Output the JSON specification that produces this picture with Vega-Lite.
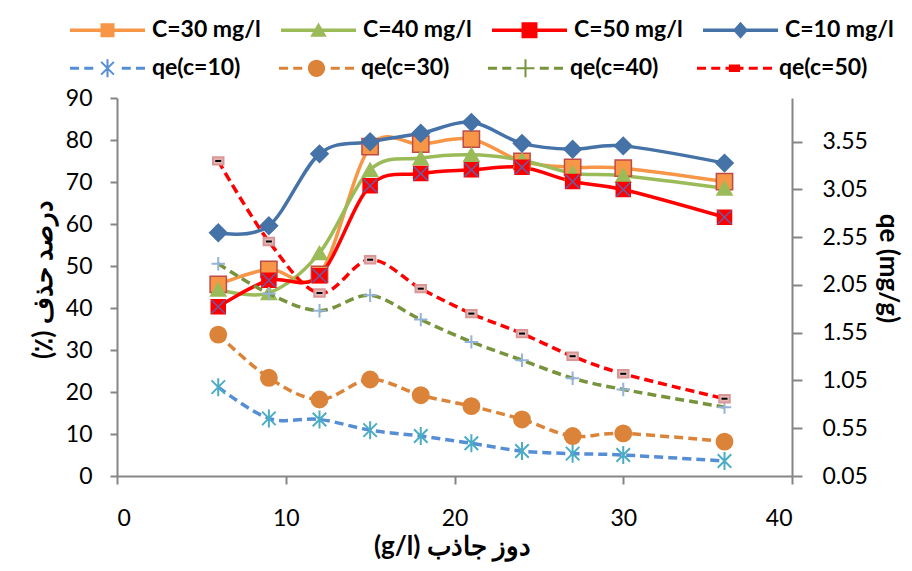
{
  "$schema": "https://vega.github.io/schema/vega-lite/v6.json",
  "width": 675,
  "height": 378,
  "autosize": {"type": "none"},
  "padding": {"left": 117, "top": 98, "right": 120, "bottom": 95},
  "background": "white",
  "config": {
    "view": {"stroke": null},
    "font": "Lato",
    "axis": {
      "grid": false,
      "domainColor": "#868686",
      "domainWidth": 2,
      "tickColor": "#868686",
      "tickWidth": 2,
      "labelFont": "Lato",
      "labelFontSize": 23,
      "labelColor": "#000000",
      "titleFont": "Lato",
      "titleFontSize": 26,
      "titleFontWeight": "bold",
      "titleColor": "#000000"
    }
  },
  "datasets": {
    "removal": [
      {"dose": 6, "series": "C=30 mg/l", "value": 45.6},
      {"dose": 9, "series": "C=30 mg/l", "value": 49.2},
      {"dose": 12, "series": "C=30 mg/l", "value": 48.0},
      {"dose": 15, "series": "C=30 mg/l", "value": 78.4},
      {"dose": 18, "series": "C=30 mg/l", "value": 79.0},
      {"dose": 21, "series": "C=30 mg/l", "value": 80.2},
      {"dose": 24, "series": "C=30 mg/l", "value": 74.9},
      {"dose": 27, "series": "C=30 mg/l", "value": 73.5},
      {"dose": 30, "series": "C=30 mg/l", "value": 73.3},
      {"dose": 36, "series": "C=30 mg/l", "value": 70.1},
      {"dose": 6, "series": "C=40 mg/l", "value": 44.4},
      {"dose": 9, "series": "C=40 mg/l", "value": 43.6},
      {"dose": 12, "series": "C=40 mg/l", "value": 53.1},
      {"dose": 15, "series": "C=40 mg/l", "value": 72.9},
      {"dose": 18, "series": "C=40 mg/l", "value": 75.7},
      {"dose": 21, "series": "C=40 mg/l", "value": 76.5},
      {"dose": 24, "series": "C=40 mg/l", "value": 75.2},
      {"dose": 27, "series": "C=40 mg/l", "value": 72.1},
      {"dose": 30, "series": "C=40 mg/l", "value": 71.5},
      {"dose": 36, "series": "C=40 mg/l", "value": 68.5},
      {"dose": 6, "series": "C=50 mg/l", "value": 40.3},
      {"dose": 9, "series": "C=50 mg/l", "value": 46.6},
      {"dose": 12, "series": "C=50 mg/l", "value": 47.7},
      {"dose": 15, "series": "C=50 mg/l", "value": 69.1},
      {"dose": 18, "series": "C=50 mg/l", "value": 72.0},
      {"dose": 21, "series": "C=50 mg/l", "value": 72.9},
      {"dose": 24, "series": "C=50 mg/l", "value": 73.5},
      {"dose": 27, "series": "C=50 mg/l", "value": 70.1},
      {"dose": 30, "series": "C=50 mg/l", "value": 68.2},
      {"dose": 36, "series": "C=50 mg/l", "value": 61.6},
      {"dose": 6, "series": "C=10 mg/l", "value": 57.9},
      {"dose": 9, "series": "C=10 mg/l", "value": 59.6},
      {"dose": 12, "series": "C=10 mg/l", "value": 76.7},
      {"dose": 15, "series": "C=10 mg/l", "value": 79.6},
      {"dose": 18, "series": "C=10 mg/l", "value": 81.6},
      {"dose": 21, "series": "C=10 mg/l", "value": 84.2},
      {"dose": 24, "series": "C=10 mg/l", "value": 79.2},
      {"dose": 27, "series": "C=10 mg/l", "value": 77.8},
      {"dose": 30, "series": "C=10 mg/l", "value": 78.6},
      {"dose": 36, "series": "C=10 mg/l", "value": 74.5}
    ],
    "qe": [
      {"dose": 6, "series": "qe(c=10)", "value": 0.98},
      {"dose": 9, "series": "qe(c=10)", "value": 0.653},
      {"dose": 12, "series": "qe(c=10)", "value": 0.642},
      {"dose": 15, "series": "qe(c=10)", "value": 0.53},
      {"dose": 18, "series": "qe(c=10)", "value": 0.468},
      {"dose": 21, "series": "qe(c=10)", "value": 0.392},
      {"dose": 24, "series": "qe(c=10)", "value": 0.311},
      {"dose": 27, "series": "qe(c=10)", "value": 0.284},
      {"dose": 30, "series": "qe(c=10)", "value": 0.27},
      {"dose": 36, "series": "qe(c=10)", "value": 0.207},
      {"dose": 6, "series": "qe(c=30)", "value": 1.53},
      {"dose": 9, "series": "qe(c=30)", "value": 1.078},
      {"dose": 12, "series": "qe(c=30)", "value": 0.851},
      {"dose": 15, "series": "qe(c=30)", "value": 1.06},
      {"dose": 18, "series": "qe(c=30)", "value": 0.896},
      {"dose": 21, "series": "qe(c=30)", "value": 0.781},
      {"dose": 24, "series": "qe(c=30)", "value": 0.642},
      {"dose": 27, "series": "qe(c=30)", "value": 0.468},
      {"dose": 30, "series": "qe(c=30)", "value": 0.496},
      {"dose": 36, "series": "qe(c=30)", "value": 0.41},
      {"dose": 6, "series": "qe(c=40)", "value": 2.272},
      {"dose": 9, "series": "qe(c=40)", "value": 1.959},
      {"dose": 12, "series": "qe(c=40)", "value": 1.781},
      {"dose": 15, "series": "qe(c=40)", "value": 1.941},
      {"dose": 18, "series": "qe(c=40)", "value": 1.687},
      {"dose": 21, "series": "qe(c=40)", "value": 1.454},
      {"dose": 24, "series": "qe(c=40)", "value": 1.262},
      {"dose": 27, "series": "qe(c=40)", "value": 1.074},
      {"dose": 30, "series": "qe(c=40)", "value": 0.956},
      {"dose": 36, "series": "qe(c=40)", "value": 0.771},
      {"dose": 6, "series": "qe(c=50)", "value": 3.348},
      {"dose": 9, "series": "qe(c=50)", "value": 2.505},
      {"dose": 12, "series": "qe(c=50)", "value": 1.966},
      {"dose": 15, "series": "qe(c=50)", "value": 2.314},
      {"dose": 18, "series": "qe(c=50)", "value": 2.011},
      {"dose": 21, "series": "qe(c=50)", "value": 1.75},
      {"dose": 24, "series": "qe(c=50)", "value": 1.541},
      {"dose": 27, "series": "qe(c=50)", "value": 1.304},
      {"dose": 30, "series": "qe(c=50)", "value": 1.12},
      {"dose": 36, "series": "qe(c=50)", "value": 0.859}
    ]
  },
  "encoding": {
    "x": {
      "field": "dose",
      "type": "quantitative",
      "scale": {"domain": [0, 40], "nice": false},
      "axis": {
        "values": [0, 10, 20, 30, 40],
        "title": "(g/l) دوز جاذب",
        "tickSize": 8,
        "labelPadding": 23,
        "titleX": 335,
        "titleY": 70,
        "titleBaseline": "middle"
      }
    }
  },
  "layer": [
    {
      "data": {"name": "removal"},
      "encoding": {
        "y": {
          "field": "value",
          "type": "quantitative",
          "scale": {"domain": [0, 90], "nice": false},
          "axis": {
            "values": [0, 10, 20, 30, 40, 50, 60, 70, 80, 90],
            "title": "(٪) درصد حذف",
            "tickSize": 7,
            "labelPadding": 18,
            "titleAngle": 270,
            "titleX": -74,
            "titleY": 181,
            "titleBaseline": "middle"
          }
        }
      },
      "layer": [
        {
          "mark": {"type": "line", "interpolate": "cardinal", "strokeWidth": 3.5},
          "encoding": {
            "color": {
              "field": "series",
              "type": "nominal",
              "scale": {
                "domain": ["C=30 mg/l", "C=40 mg/l", "C=50 mg/l", "C=10 mg/l"],
                "range": ["#F79646", "#9BBB59", "#FF0000", "#4572A7"]
              },
              "legend": {
                "title": null,
                "orient": "none",
                "legendX": -47,
                "legendY": -105.5,
                "direction": "horizontal",
                "columns": 4,
                "columnPadding": 20,
                "padding": 0,
                "symbolSize": 5625,
                "symbolStrokeWidth": 0,
                "labelOffset": 7,
                "labelFont": "Lato",
                "labelFontSize": 23,
                "labelFontWeight": "bold",
                "labelColor": "#000000",
                "labelLimit": 300,
                "encode": {
                  "symbols": {
                    "update": {
                      "shape": {"signal": "datum.value === 'C=30 mg/l' ? 'M-1,-0.047H1V0.047H-1ZM-0.187,-0.187H0.187V0.187H-0.187Z' : datum.value === 'C=40 mg/l' ? 'M-1,-0.047H1V0.047H-1ZM0,-0.21L0.22,0.17H-0.22Z' : datum.value === 'C=50 mg/l' ? 'M-1,-0.047H1V0.047H-1ZM-0.213,-0.213H0.213V0.213H-0.213Z' : 'M-1,-0.047H1V0.047H-1ZM0,-0.227L0.2,0L0,0.227L-0.2,0Z'"},
                      "fill": {"signal": "datum.value === 'C=30 mg/l' ? '#F79646' : datum.value === 'C=40 mg/l' ? '#9BBB59' : datum.value === 'C=50 mg/l' ? '#FF0000' : '#4572A7'"},
                      "strokeWidth": {"value": 0},
                      "opacity": {"value": 1}
                    }
                  }
                }
              }
            }
          }
        },
        {
          "mark": {"type": "point", "filled": true, "opacity": 1, "strokeWidth": 1.5},
          "encoding": {
            "shape": {
              "field": "series",
              "type": "nominal",
              "scale": {
                "domain": ["C=10 mg/l", "C=30 mg/l", "C=40 mg/l", "C=50 mg/l"],
                "range": ["diamond", "square", "triangle-up", "square"]
              },
              "legend": null
            },
            "fill": {
              "field": "series",
              "type": "nominal",
              "scale": {
                "domain": ["C=10 mg/l", "C=30 mg/l", "C=40 mg/l", "C=50 mg/l"],
                "range": ["#4572A7", "#F79646", "#9BBB59", "#FF0000"]
              },
              "legend": null
            },
            "stroke": {
              "field": "series",
              "type": "nominal",
              "scale": {
                "domain": ["C=10 mg/l", "C=30 mg/l", "C=40 mg/l", "C=50 mg/l"],
                "range": ["#4572A7", "#BE4B48", "#9BBB59", "#FF0000"]
              },
              "legend": null
            },
            "size": {
              "field": "series",
              "type": "nominal",
              "scale": {
                "domain": ["C=10 mg/l", "C=30 mg/l", "C=40 mg/l", "C=50 mg/l"],
                "range": [300, 196, 300, 289]
              },
              "legend": null
            }
          }
        },
        {
          "transform": [{"filter": "datum.series === 'C=50 mg/l'"}],
          "mark": {
            "type": "point",
            "shape": "M-0.8,-0.8L0.8,0.8M-0.8,0.8L0.8,-0.8",
            "filled": false,
            "stroke": "#6B5BA5",
            "strokeWidth": 1.5,
            "size": 289,
            "opacity": 1
          },
          "encoding": {}
        }
      ]
    },
    {
      "data": {"name": "qe"},
      "encoding": {
        "y": {
          "field": "value",
          "type": "quantitative",
          "scale": {"domain": [0.05, 4.007], "nice": false, "zero": false},
          "axis": {
            "orient": "right",
            "values": [0.05, 0.55, 1.05, 1.55, 2.05, 2.55, 3.05, 3.55],
            "format": ".2f",
            "title": "qe (mg/g)",
            "tickSize": 10,
            "labelPadding": 20,
            "titleAngle": 90,
            "titleX": 95,
            "titleY": 170,
            "titleBaseline": "middle"
          }
        }
      },
      "layer": [
        {
          "mark": {"type": "line", "interpolate": "cardinal", "strokeWidth": 3.5, "strokeDash": [9, 5]},
          "encoding": {
            "color": {
              "field": "series",
              "type": "nominal",
              "scale": {
                "domain": ["qe(c=10)", "qe(c=30)", "qe(c=40)", "qe(c=50)"],
                "range": ["#558ED5", "#DB8439", "#77933C", "#FF0000"]
              },
              "legend": {
                "title": null,
                "orient": "none",
                "legendX": -47,
                "legendY": -67.5,
                "direction": "horizontal",
                "columns": 4,
                "columnPadding": 38,
                "padding": 0,
                "symbolSize": 5625,
                "symbolStrokeWidth": 0,
                "labelOffset": 7,
                "labelFont": "Lato",
                "labelFontSize": 23,
                "labelFontWeight": "bold",
                "labelColor": "#000000",
                "labelLimit": 300,
                "encode": {
                  "symbols": {
                    "update": {
                      "shape": {"signal": "datum.value === 'qe(c=10)' ? 'M-1,-0.04H-0.76V0.04H-1ZM-0.62,-0.04H-0.38V0.04H-0.62ZM0.38,-0.04H0.62V0.04H0.38ZM0.76,-0.04H1V0.04H0.76ZM-0.027,-0.24H0.027V0.24H-0.027ZM-0.151,-0.189L0.189,0.151L0.151,0.189L-0.189,-0.151ZM0.151,-0.189L0.189,-0.151L-0.151,0.189L-0.189,0.151Z' : datum.value === 'qe(c=30)' ? 'M-1,-0.04H-0.76V0.04H-1ZM-0.62,-0.04H-0.38V0.04H-0.62ZM0.38,-0.04H0.62V0.04H0.38ZM0.76,-0.04H1V0.04H0.76ZM-0.23,0A0.23,0.23 0 1,1 0.23,0A0.23,0.23 0 1,1 -0.23,0Z' : datum.value === 'qe(c=40)' ? 'M-1,-0.04H-0.76V0.04H-1ZM-0.62,-0.04H-0.38V0.04H-0.62ZM0.38,-0.04H0.62V0.04H0.38ZM0.76,-0.04H1V0.04H0.76ZM-0.24,-0.027H0.24V0.027H-0.24ZM-0.027,-0.24H0.027V0.24H-0.027Z' : 'M-1,-0.04H-0.76V0.04H-1ZM-0.62,-0.04H-0.38V0.04H-0.62ZM0.38,-0.04H0.62V0.04H0.38ZM0.76,-0.04H1V0.04H0.76ZM-0.24,-0.04H0.24V0.04H-0.24ZM-0.15,-0.1H0.15V0.1H-0.15Z'"},
                      "fill": {"signal": "datum.value === 'qe(c=10)' ? '#558ED5' : datum.value === 'qe(c=30)' ? '#DB8439' : datum.value === 'qe(c=40)' ? '#77933C' : '#FF0000'"},
                      "strokeWidth": {"value": 0},
                      "opacity": {"value": 1}
                    }
                  }
                }
              }
            }
          }
        },
        {
          "mark": {"type": "point", "filled": true, "opacity": 1, "strokeWidth": 2},
          "encoding": {
            "shape": {
              "field": "series",
              "type": "nominal",
              "scale": {
                "domain": ["qe(c=50)", "qe(c=40)", "qe(c=30)", "qe(c=10)"],
                "range": ["M-1,-0.7H1V0.7H-1Z", "M-1,0H1M0,-1V1", "circle", "M0,-1V1M-0.75,-0.75L0.75,0.75M-0.75,0.75L0.75,-0.75"]
              },
              "legend": null
            },
            "fill": {
              "field": "series",
              "type": "nominal",
              "scale": {
                "domain": ["qe(c=50)", "qe(c=40)", "qe(c=30)", "qe(c=10)"],
                "range": ["#E6B9B8", "transparent", "#DB8439", "transparent"]
              },
              "legend": null
            },
            "stroke": {
              "field": "series",
              "type": "nominal",
              "scale": {
                "domain": ["qe(c=50)", "qe(c=40)", "qe(c=30)", "qe(c=10)"],
                "range": ["#D99694", "#95B3D7", "#DB8439", "#4BACC6"]
              },
              "legend": null
            },
            "size": {
              "field": "series",
              "type": "nominal",
              "scale": {
                "domain": ["qe(c=50)", "qe(c=40)", "qe(c=30)", "qe(c=10)"],
                "range": [110, 324, 260, 324]
              },
              "legend": null
            }
          }
        },
        {
          "transform": [{"filter": "datum.series === 'qe(c=50)'"}],
          "mark": {
            "type": "point",
            "shape": "M-0.6,0H0.6",
            "filled": false,
            "stroke": "#000000",
            "strokeWidth": 2,
            "size": 100,
            "opacity": 1
          },
          "encoding": {}
        }
      ]
    }
  ],
  "resolve": {
    "scale": {
      "y": "independent",
      "color": "independent",
      "fill": "independent",
      "stroke": "independent",
      "shape": "independent",
      "size": "independent"
    },
    "axis": {"y": "independent"},
    "legend": {"color": "independent"}
  }
}
